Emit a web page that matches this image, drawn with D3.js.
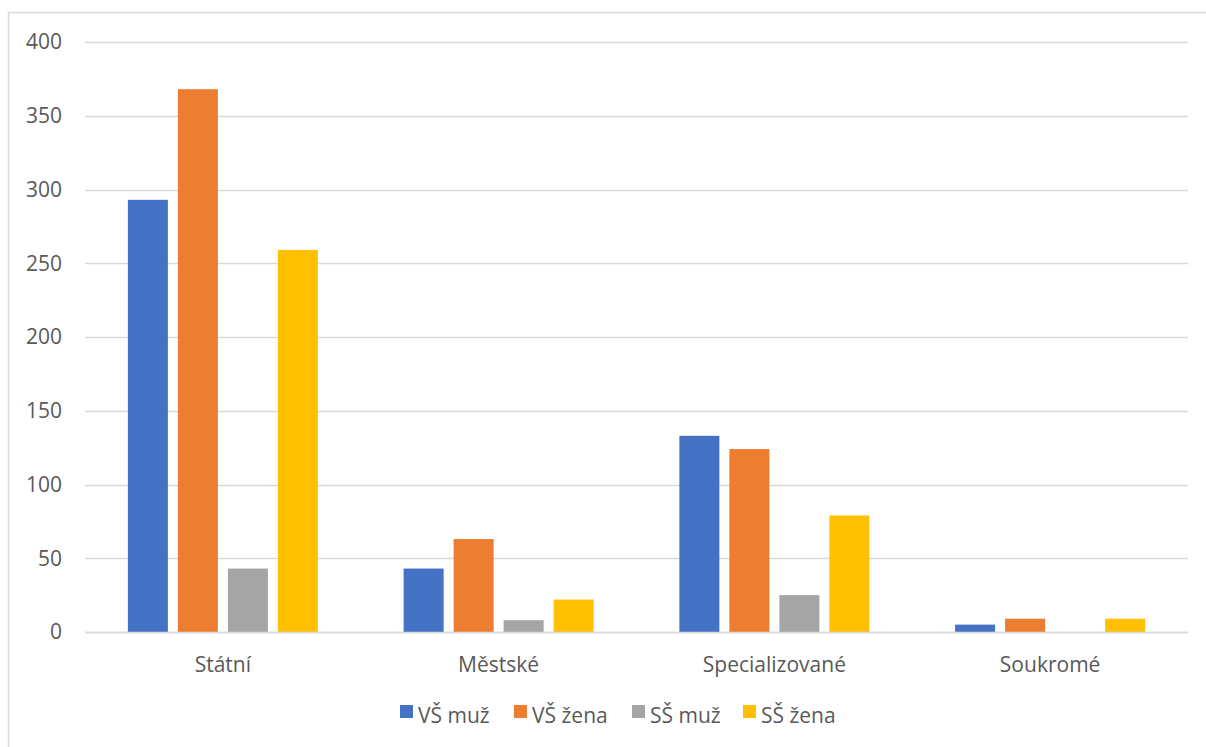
<!DOCTYPE html>
<html><head><meta charset="utf-8">
<script src="https://cdn.jsdelivr.net/npm/d3@7"></script>
<style>html,body{margin:0;padding:0;background:#fff;} svg{display:block;}</style>
</head><body>
<script>
const categories = ["Státní", "Městské", "Specializované", "Soukromé"];
const seriesNames = ["VŠ muž", "VŠ žena", "SŠ muž", "SŠ žena"];
const vsMuz  = [293, 43, 133, 5];
const vsZena = [368, 63, 124, 9];
const ssMuz  = [43, 8, 25, 0];
const ssZena = [259, 22, 79, 9];
const yTicks = [0, 50, 100, 150, 200, 250, 300, 350, 400];
const colors = ["#4472C4", "#ED7D31", "#A5A5A5", "#FFC000"];

(function () {
const seriesValues = [vsMuz, vsZena, ssMuz, ssZena];
const W = 1206, H = 747;
const pLeft = 85, pRight = 1188, pTop = 42, pBottom = 632;
const font = "'Open Sans', sans-serif";
const fs = 21;
const textColor = "#595959";

const svg = d3.select("body").append("svg").attr("width", W).attr("height", H);
svg.append("rect").attr("x", 8.5).attr("y", 12.5).attr("width", W + 10).attr("height", H + 10)
  .attr("fill", "#fff").attr("stroke", "#D9D9D9").attr("stroke-width", 1.5);

const y = d3.scaleLinear().domain([0, 400]).range([pBottom, pTop]);
const x0 = d3.scaleBand().domain(categories).range([pLeft, pRight]).padding(0);
const groupW = 190;
const x1 = d3.scaleBand().domain(seriesNames).range([0, groupW]).paddingInner(0.2).paddingOuter(0);

svg.append("g").selectAll("line").data(yTicks).join("line")
  .attr("x1", pLeft).attr("x2", pRight)
  .attr("y1", d => Math.round(y(d)) + 0.5).attr("y2", d => Math.round(y(d)) + 0.5)
  .attr("stroke", "#D9D9D9").attr("stroke-width", 1.3);

svg.append("g").selectAll("text").data(yTicks).join("text")
  .attr("x", 62).attr("y", d => y(d)).attr("dy", "0.35em")
  .attr("text-anchor", "end").attr("font-family", font).attr("font-size", fs)
  .attr("fill", textColor).text(d => d);

const groups = svg.append("g").selectAll("g").data(categories).join("g")
  .attr("transform", c => `translate(${x0(c) + (x0.bandwidth() - groupW) / 2},0)`);
groups.selectAll("rect").data((c, ci) => seriesNames.map((s, si) => ({s, si, v: seriesValues[si][ci]})))
  .join("rect")
  .attr("x", d => x1(d.s)).attr("width", x1.bandwidth())
  .attr("y", d => y(d.v)).attr("height", d => y(0) - y(d.v))
  .attr("fill", d => colors[d.si]);

svg.append("line").attr("x1", pLeft).attr("x2", pRight)
  .attr("y1", Math.round(y(0)) + 0.5).attr("y2", Math.round(y(0)) + 0.5)
  .attr("stroke", "#D9D9D9").attr("stroke-width", 1.3);

svg.append("g").selectAll("text").data(categories).join("text")
  .attr("x", c => x0(c) + x0.bandwidth() / 2).attr("y", 672)
  .attr("text-anchor", "middle").attr("font-family", font).attr("font-size", fs)
  .attr("fill", textColor).text(c => c);

const legendX = [400, 514, 632, 743];
const leg = svg.append("g").selectAll("g").data(seriesNames).join("g")
  .attr("transform", (d, i) => `translate(${legendX[i]},0)`);
leg.append("rect").attr("x", 0).attr("y", 705).attr("width", 13).attr("height", 13)
  .attr("fill", (d, i) => colors[i]);
leg.append("text").attr("x", 18).attr("y", 723).attr("font-family", font).attr("font-size", fs)
  .attr("fill", textColor).text(d => d);
})();
</script>
</body></html>
